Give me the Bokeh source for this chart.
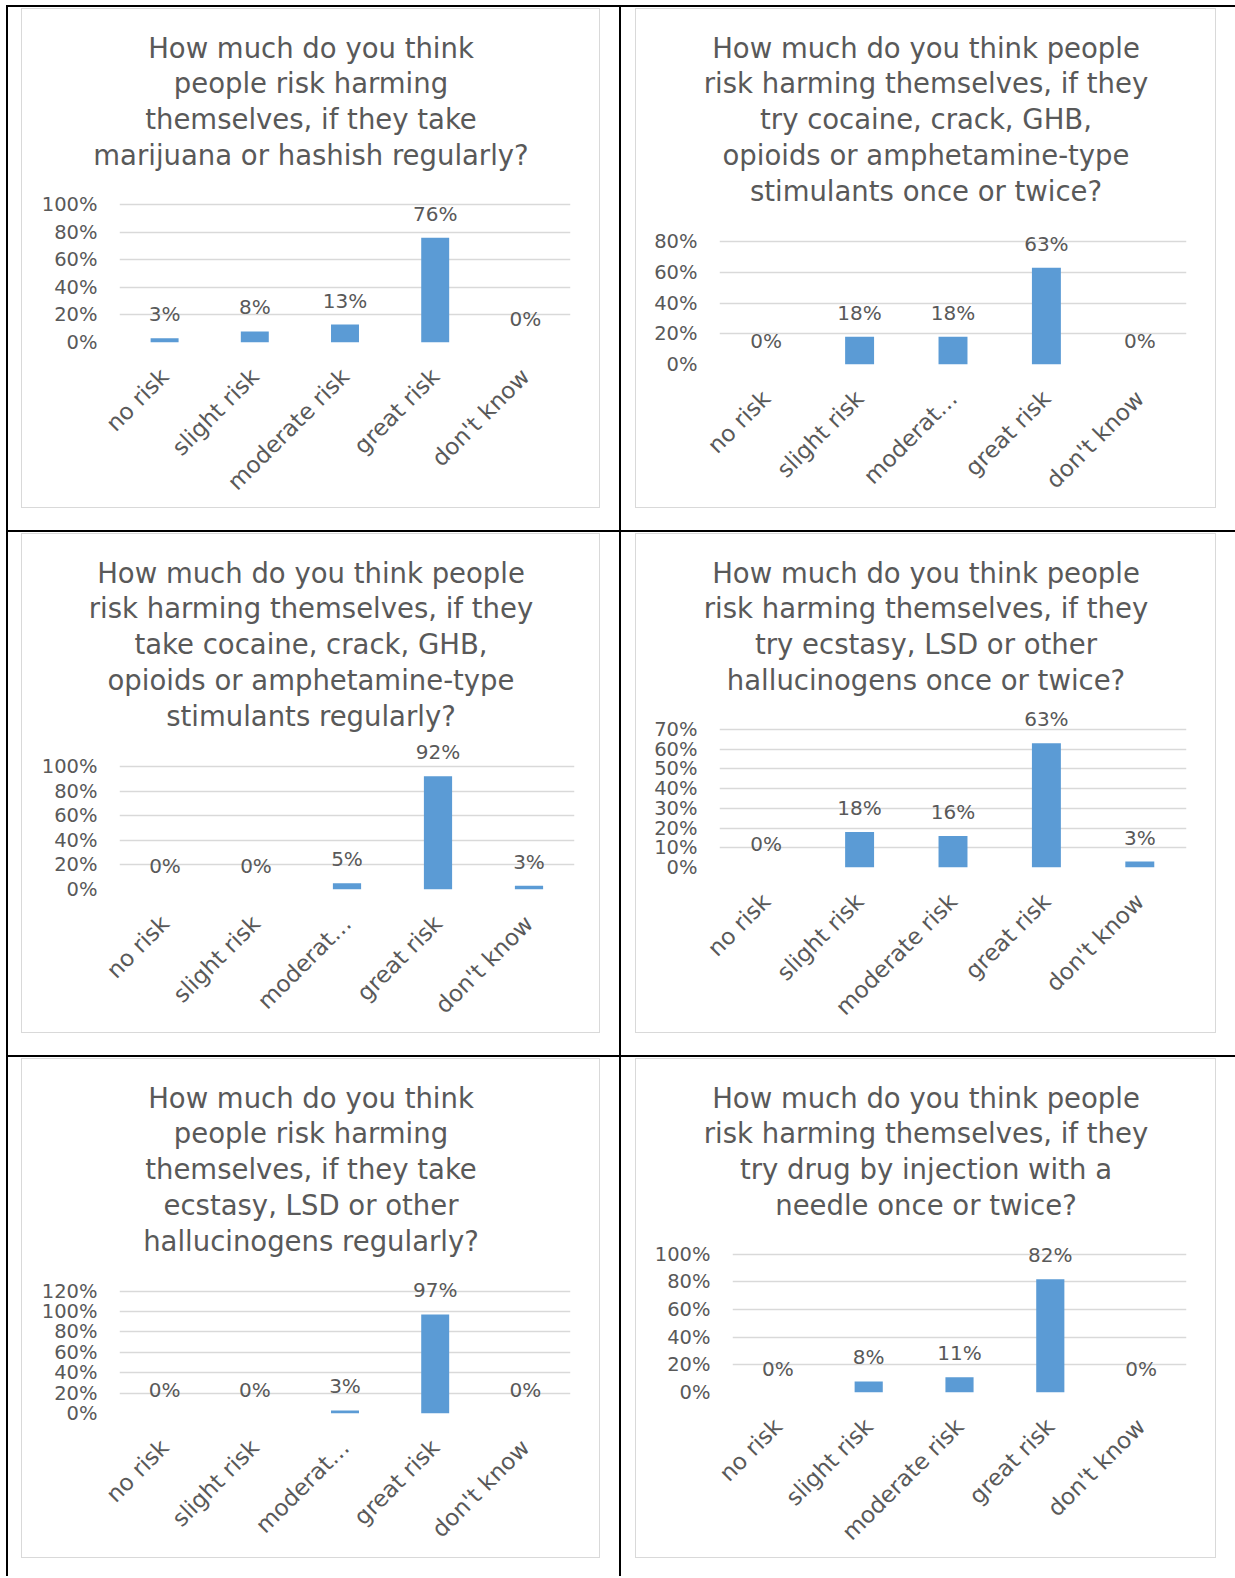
import math
from bokeh.plotting import figure
from bokeh.models import (FactorRange, Range1d, FixedTicker, PrintfTickFormatter,
                          CustomJSTickFormatter, ColumnDataSource, LabelSet, Div)
from bokeh.layouts import row, column
from bokeh.embed import file_html
from bokeh.resources import INLINE
from bokeh.core.properties import value

# ---------------- data ----------------
categories = ["no risk", "slight risk", "moderate risk", "great risk", "don't know"]

title_1 = ["How much do you think", "people risk harming", "themselves, if they take",
           "marijuana or hashish regularly?"]
values_1 = [3, 8, 13, 76, 0]
ymax_1, ystep_1 = 100, 20

title_2 = ["How much do you think people", "risk harming themselves, if they",
           "try cocaine, crack, GHB,", "opioids or amphetamine-type",
           "stimulants once or twice?"]
values_2 = [0, 18, 18, 63, 0]
ymax_2, ystep_2 = 80, 20

title_3 = ["How much do you think people", "risk harming themselves, if they",
           "take cocaine, crack, GHB,", "opioids or amphetamine-type",
           "stimulants regularly?"]
values_3 = [0, 0, 5, 92, 3]
ymax_3, ystep_3 = 100, 20

title_4 = ["How much do you think people", "risk harming themselves, if they",
           "try ecstasy, LSD or other", "hallucinogens once or twice?"]
values_4 = [0, 18, 16, 63, 3]
ymax_4, ystep_4 = 70, 10

title_5 = ["How much do you think", "people risk harming", "themselves, if they take",
           "ecstasy, LSD or other", "hallucinogens regularly?"]
values_5 = [0, 0, 3, 97, 0]
ymax_5, ystep_5 = 120, 20

title_6 = ["How much do you think people", "risk harming themselves, if they",
           "try drug by injection with a", "needle once or twice?"]
values_6 = [0, 8, 11, 82, 0]
ymax_6, ystep_6 = 100, 20

truncated = {"moderate risk": "moderat\u2026"}

# ---------------- style ----------------
FONT = "DejaVu Sans"
TXT = "#595959"
GRID = "#D9D9D9"
BAR = "#5B9BD5"
CELL_H = 498
TITLE_FS = "27.5px"
TITLE_FIRST = 48
TITLE_PITCH = 35.8


def make_cell(lines, vals, ymax, ystep, short, w, lb, rb, p_top, p_bot, margin):
    # ---- title block: its own plot whose frame covers the whole block ----
    th = 170 if len(lines) <= 4 else 201
    tf = figure(width=w, height=th, x_range=Range1d(0, w), y_range=Range1d(th, 0),
                output_backend="svg", toolbar_location=None, x_axis_type=None,
                y_axis_type=None, min_border=0, frame_align=False,
                background_fill_color="white", border_fill_color="white",
                outline_line_color=None)
    tf.title.visible = False
    tf.grid.visible = False
    tsrc = ColumnDataSource(dict(x=[w / 2] * len(lines),
                                 y=[TITLE_FIRST + TITLE_PITCH * i for i in range(len(lines))],
                                 t=lines))
    tf.add_layout(LabelSet(x="x", y="y", text="t", source=tsrc, text_align="center",
                           text_baseline="alphabetic", text_font=value(FONT),
                           text_font_size=TITLE_FS, text_color=TXT))

    # ---- chart block ----
    ch = CELL_H - th
    top_gap = 1
    frame_top = th + top_gap
    y_end = ymax + (p_top - frame_top) * ymax / (p_bot - p_top)
    p = figure(x_range=FactorRange(*categories), y_range=Range1d(0, y_end),
               width=w, height=ch, output_backend="svg", toolbar_location=None,
               min_border_left=int(lb), min_border_right=int(rb),
               min_border_top=top_gap, min_border_bottom=int(CELL_H - p_bot),
               frame_align=False,
               background_fill_color="white", border_fill_color="white",
               outline_line_color=None)
    p.title.visible = False
    src = ColumnDataSource(dict(cat=categories, val=vals,
                                lab=["%d%%" % v for v in vals]))
    p.vbar(x="cat", top="val", width=0.31, source=src, fill_color=BAR, line_color=None)
    p.add_layout(LabelSet(x="cat", y="val", text="lab", source=src,
                          text_align="center", text_baseline="alphabetic",
                          y_offset=17, text_font=value(FONT),
                          text_font_size="20px", text_color=TXT))
    p.xgrid.visible = False
    p.ygrid.grid_line_color = GRID
    p.ygrid.grid_line_width = 1.4
    ya = p.yaxis[0]
    ya.ticker = FixedTicker(ticks=list(range(0, ymax + 1, ystep)))
    ya.formatter = PrintfTickFormatter(format="%d%%")
    ya.axis_line_color = None
    ya.major_tick_line_color = None
    ya.minor_tick_line_color = None
    ya.major_label_standoff = 16
    ya.major_label_text_font = FONT
    ya.major_label_text_font_size = "19.5px"
    ya.major_label_text_color = TXT
    xa = p.xaxis[0]
    xa.axis_line_color = None
    xa.major_tick_line_color = None
    xa.minor_tick_line_color = None
    xa.major_label_orientation = math.pi / 4
    xa.major_label_standoff = 24
    xa.major_label_text_font = FONT
    xa.major_label_text_font_size = "23px"
    xa.major_label_text_color = TXT
    if short:
        xa.formatter = CustomJSTickFormatter(
            args=dict(over=truncated),
            code="return (tick in over) ? over[tick] : tick;")
    return column(tf, p, spacing=0, width=w, height=CELL_H, margin=margin,
                  styles={"outline": "1.5px solid " + GRID})


def hline(w):
    return Div(width=w, height=2, margin=0, styles={"background-color": "black"})


def vline(hh):
    return Div(width=2, height=hh, margin=0, styles={"background-color": "black"})


WL, WR = 577, 579
ML = (2, 20, 23, 14)
MR = (2, 15, 23, 15)
ML3 = (2, 20, 19, 14)
MR3 = (2, 15, 19, 15)

c1 = make_cell(title_1, values_1, ymax_1, ystep_1, False, WL, 97, 29, 195.5, 335, ML)
c2 = make_cell(title_2, values_2, ymax_2, ystep_2, True, WR, 83, 29, 232, 355, MR)
c3 = make_cell(title_3, values_3, ymax_3, ystep_3, True, WL, 97, 25, 232, 355, ML)
c4 = make_cell(title_4, values_4, ymax_4, ystep_4, False, WR, 83, 29, 195, 334, MR)
c5 = make_cell(title_5, values_5, ymax_5, ystep_5, True, WL, 97, 29, 231.5, 354, ML3)
c6 = make_cell(title_6, values_6, ymax_6, ystep_6, False, WR, 96, 29, 195, 334, MR3)

TOTAL_W = 1229
layout = column(
    hline(TOTAL_W),
    row(vline(523), c1, vline(523), c2, spacing=0),
    hline(TOTAL_W),
    row(vline(523), c3, vline(523), c4, spacing=0),
    hline(TOTAL_W),
    row(vline(519), c5, vline(519), c6, spacing=0),
    spacing=0, margin=(5, 0, 0, 6),
)

open("out.html", "w").write(file_html(layout, INLINE))
